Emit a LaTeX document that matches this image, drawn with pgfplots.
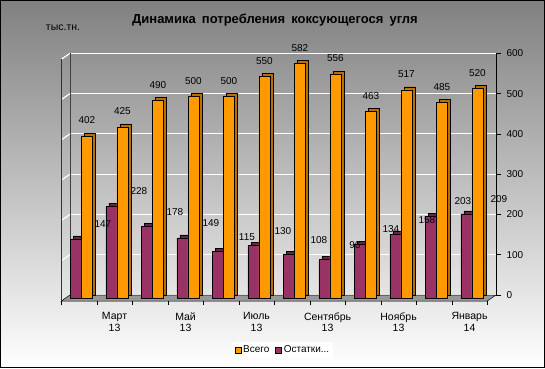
\documentclass[border=0pt]{standalone}
\usepackage{pgfplots}
\pgfplotsset{compat=1.18}
\usepackage{pgfplotstable}
\usepackage{fontspec}
\setmainfont{Liberation Sans}
\definecolor{orng}{HTML}{FF9900}
\definecolor{orngd}{HTML}{B86E00}
\definecolor{mar}{HTML}{993366}
\definecolor{mard}{HTML}{6A2246}
\definecolor{bgtop}{HTML}{808080}
\pgfplotsset{sqlegend/.style={legend image code/.code={\draw[##1,line width=0.4pt] (0pt,-3pt) rectangle (6pt,3pt);}}}
\pgfplotstableread{
x total rest
1 402 147
2 425 228
3 490 178
4 500 149
5 500 115
6 550 130
7 582 108
8 556 96
9 463 134
10 517 158
11 485 203
12 520 209
}\coaldata
\begin{document}
\begin{tikzpicture}
\shade[top color=bgtop, bottom color=white] (0pt,0pt) rectangle (545pt,368pt);
\draw[black, line width=1pt] (0.5pt,0.5pt) rectangle (544.5pt,367.5pt);
\node[font=\bfseries\fontsize{13}{15}\selectfont] at (275pt,348pt) {Динамика\hspace{2.5pt} потребления\hspace{2.5pt} коксующегося\hspace{2.5pt} угля};
\node[font=\fontsize{10.5}{12}\selectfont] at (63pt,340pt) {тыс.тн.};
\begin{axis}[
 at={(70pt,73pt)}, anchor=south west, scale only axis, width=426pt, height=241.7pt,
 xmin=0.5, xmax=12.5, ymin=0, ymax=600,
 clip=false,
 axis line style={draw=none},
 ybar, bar width=11pt,
 ytick={0,100,...,600}, ytick pos=right, yticklabel pos=right,
 tick align=outside, major tick length=5pt, ytick style={black, line width=0.6pt},
 ymajorgrids, grid style={white, line width=1.2pt},
 xtick={2,4,...,12},
 xticklabels={{Март\\13},{Май\\13},{Июль\\13},{Сентябрь\\13},{Ноябрь\\13},{Январь\\14}},
 xtick style={draw=none},
 xticklabel style={align=center, xshift=-8.7pt, yshift=-9pt, font=\fontsize{10.5}{11.5}\selectfont},
 yticklabel style={font=\fontsize{10}{12}\selectfont, xshift=2pt},
 /pgf/number format/assume math mode=true,
 legend style={at={(0.500,-0.2276)}, anchor=center, legend columns=2, draw=none, fill=white,
   font=\fontsize{10}{12}\selectfont, inner sep=2pt,
   /tikz/every even column/.append style={column sep=4pt}},
]
\addlegendimage{sqlegend, fill=orng, draw=black}
\addlegendentry{Всего}
\addlegendimage{sqlegend, fill=mar, draw=black}
\addlegendentry{Остатки...}
% floor
\fill[fill=black!40, draw=black, line width=0.5pt] (axis cs:0.5,0) -- (axis cs:12.5,0) -- ([xshift=-8.7pt,yshift=-6pt]axis cs:12.5,0) -- ([xshift=-8.7pt,yshift=-6pt]axis cs:0.5,0) -- cycle;
% walls
\pgfplotsinvokeforeach{100,200,...,600}{\draw[white,line width=1.2pt] (axis cs:0.5,#1) -- ([xshift=-8.7pt,yshift=-6pt]axis cs:0.5,#1);}
\draw[black!75, line width=0.6pt] (axis cs:0.5,0) -- (axis cs:0.5,600);
\draw[black!80, line width=0.8pt] ([xshift=-8.7pt,yshift=-6pt]axis cs:0.5,0) -- ([xshift=-8.7pt,yshift=-6pt]axis cs:0.5,600);
\draw[black, line width=0.8pt] (axis cs:12.5,0) -- (axis cs:12.5,600);
\pgfplotsinvokeforeach{0.5,1.5,...,12.5}{\draw[black, line width=0.6pt] ([xshift=-8.7pt,yshift=-6pt]axis cs:#1,0) -- ++(0pt,-4pt);}
% bars
\addplot[forget plot, fill=mard, draw=black, line width=0.4pt, bar shift=-5.5pt, xshift=-3.3pt, yshift=0pt] table[x=x,y=rest]{\coaldata};
\addplot[forget plot, fill=mar, draw=black, line width=0.4pt, bar shift=-5.5pt, xshift=-6.3pt, yshift=-3pt,
  nodes near coords, visualization depends on={\thisrow{x} \as \xv},
  every node near coord/.append style={font=\fontsize{10}{12}\selectfont, inner sep=0pt, anchor=south, yshift=11pt, xshift={(26.5+0.5*\xv)*1pt}}] table[x=x,y=rest]{\coaldata};
\addplot[forget plot, fill=orngd, draw=black, line width=0.4pt, bar shift=5.5pt, xshift=-3.3pt, yshift=0pt] table[x=x,y=total]{\coaldata};
\addplot[forget plot, fill=orng, draw=black, line width=0.4pt, bar shift=5.5pt, xshift=-6.3pt, yshift=-3pt,
  nodes near coords,
  every node near coord/.append style={font=\fontsize{10}{12}\selectfont, inner sep=0pt, anchor=south, yshift=12pt}] table[x=x,y=total]{\coaldata};
\end{axis}
\end{tikzpicture}
\end{document}
